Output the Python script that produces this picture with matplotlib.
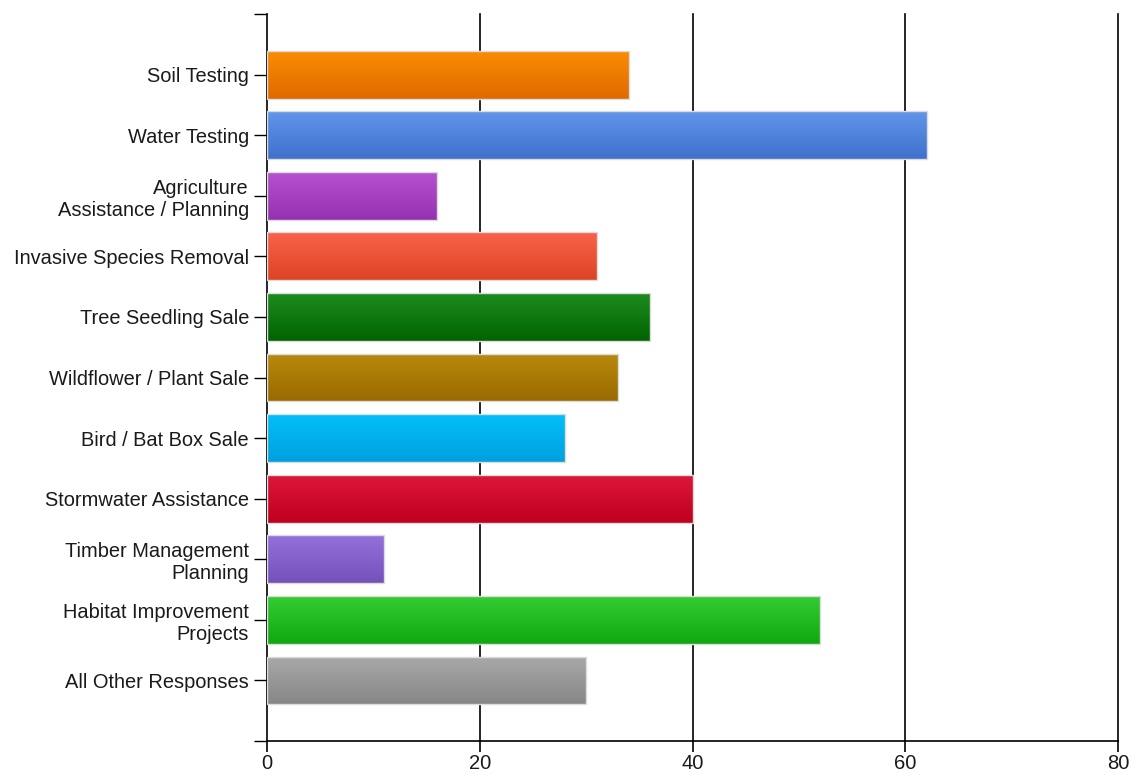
import numpy as np
import matplotlib
matplotlib.use("Agg")
import matplotlib.pyplot as plt
from matplotlib.colors import LinearSegmentedColormap

categories = ["Soil Testing", "Water Testing", "Agriculture\nAssistance / Planning",
              "Invasive Species Removal", "Tree Seedling Sale", "Wildflower / Plant Sale",
              "Bird / Bat Box Sale", "Stormwater Assistance", "Timber Management\nPlanning",
              "Habitat Improvement\nProjects", "All Other Responses"]
values = [34, 62, 16, 31, 36, 33, 28, 40, 11, 52, 30]
top_colors = ["#fa8c02", "#6196e9", "#b651d2", "#fa634a", "#1f8c1f", "#b88a0c",
              "#02bff9", "#dc163a", "#9370db", "#33cd33", "#a9a9a9"]
bot_colors = ["#df6a00", "#4070cd", "#9532b0", "#dd4424", "#006400", "#996a00",
              "#00a0de", "#bf0020", "#7551ba", "#10a810", "#878787"]
x_ticks = [0, 20, 40, 60, 80]

plt.rcParams['font.family'] = ['Liberation Sans', 'DejaVu Sans']
fig = plt.figure(figsize=(11.36, 7.77), dpi=100)
ax = fig.add_axes([0.2350, 0.0463, 0.7492, 0.9357])

ypos = np.arange(len(categories))
ax.set_xlim(0, 80)
ax.set_ylim(len(categories), -1)

for x in x_ticks[1:]:
    ax.axvline(x, color="black", lw=1.2, zorder=1, clip_on=False)

bars = ax.barh(ypos, values, height=0.79, color="none", edgecolor="#dcdcdc",
               linewidth=1.0, zorder=3)
grad = np.linspace(0, 1, 256).reshape(-1, 1)
for b, c1, c2 in zip(bars, top_colors, bot_colors):
    cmap = LinearSegmentedColormap.from_list("g", [c1, c2])
    x0, y0, w, h = b.get_x(), b.get_y(), b.get_width(), b.get_height()
    im = ax.imshow(grad, cmap=cmap, aspect="auto", extent=(x0, x0 + w, y0 + h, y0),
                   origin="upper", zorder=2, interpolation="bilinear")
    im.set_clip_path(b)
ax.set_xlim(0, 80)
ax.set_ylim(len(categories), -1)

ax.set_yticks(np.arange(-1, len(categories) + 1))
ax.set_yticklabels([""] + categories + [""], fontsize=14.4, color="#1a1a1a",
                   linespacing=1.2)
ax.set_xticks(x_ticks)
ax.set_xticklabels([str(v) for v in x_ticks], fontsize=14.5, color="#1a1a1a")
ax.tick_params(axis="y", length=9.4, width=1.0, pad=3.6, color="black")
ax.tick_params(axis="x", length=8, width=1.2, pad=1.5, color="black")

for s in ["top", "right"]:
    ax.spines[s].set_visible(False)
for s in ["left", "bottom"]:
    ax.spines[s].set_color("black")
    ax.spines[s].set_linewidth(1.2)

fig.savefig("out.png", dpi=100)
